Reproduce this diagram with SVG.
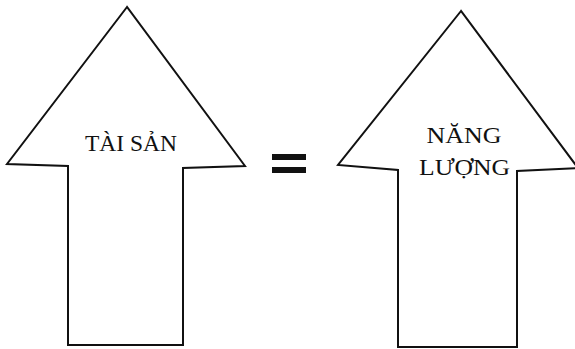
<svg xmlns="http://www.w3.org/2000/svg" width="575" height="349" viewBox="0 0 575 349">
<style>
.arrow{fill:#fff;stroke:#111;stroke-width:2;stroke-linejoin:miter}
.lbl{font-family:"Liberation Serif","Times New Roman",serif;font-size:23px;fill:#111;text-anchor:middle}
.eq{fill:#111}
</style>
<rect width="575" height="349" fill="#fff"/>
<g id="taisan">
<path class="arrow" d="M127,7 L7,164 L68,166 L68,345 L183,345 L183,168 L245,166 Z"/>
<text class="lbl" x="131" y="151" textLength="92" lengthAdjust="spacingAndGlyphs">TÀI SẢN</text>
</g>
<g id="equals">
<rect class="eq" x="272" y="154" width="34" height="6"/>
<rect class="eq" x="272" y="167" width="34" height="6"/>
</g>
<g id="nangluong">
<path class="arrow" d="M461,11 L338,165 L398,170 L398,347 L517,347 L517,171 L578,168 Z"/>
<text class="lbl" x="464" y="143" textLength="75" lengthAdjust="spacingAndGlyphs">NĂNG</text>
<text class="lbl" x="464.5" y="175" textLength="91" lengthAdjust="spacingAndGlyphs">LƯỢNG</text>
</g>
<g id="connectors"></g>
</svg>
